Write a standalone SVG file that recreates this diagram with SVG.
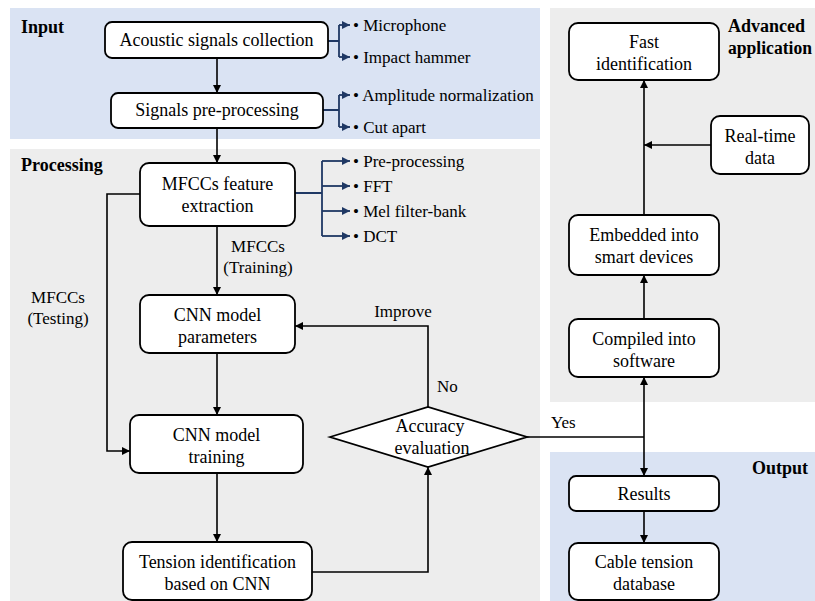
<svg xmlns="http://www.w3.org/2000/svg" width="815" height="601" viewBox="0 0 815 601" font-family="'Liberation Serif', 'DejaVu Serif', serif" font-size="17">
<defs>
<style>
text{font-family:'Liberation Serif','Times New Roman','DejaVu Serif',serif;font-size:17px;fill:#000}
.n{font-size:18px}
.b{font-weight:bold;font-size:18px}
.c{text-anchor:middle}
.box{fill:#fff;stroke:#000;stroke-width:1.8}
.ln{fill:none;stroke:#000;stroke-width:1.6}
.bl{fill:none;stroke:#1f3864;stroke-width:1.8}
</style>
<marker id="ah" viewBox="0 0 10 10" refX="10" refY="5" markerWidth="8" markerHeight="8" markerUnits="userSpaceOnUse" orient="auto"><path d="M0,0 L10,5 L0,10 z" fill="#000"/></marker>
<marker id="bh" viewBox="0 0 10 10" refX="10" refY="5" markerWidth="8" markerHeight="8" markerUnits="userSpaceOnUse" orient="auto"><path d="M0,0 L10,5 L0,10 z" fill="#1f3864"/></marker>
</defs>
<g id="panels">
<rect x="10" y="8" width="530" height="131" fill="#dae3f3"/>
<rect x="10" y="149" width="530" height="452" fill="#ededed"/>
<rect x="550" y="8" width="265" height="394" fill="#ededed"/>
<rect x="550" y="452" width="265" height="149" fill="#dae3f3"/>
<text class="b" x="21" y="33">Input</text>
<text class="b" x="21" y="171">Processing</text>
<text class="b" x="728" y="32">Advanced</text>
<text class="b" x="728" y="54" textLength="84" lengthAdjust="spacingAndGlyphs">application</text>
<text class="b" x="752" y="474">Output</text>
</g>
<g id="connectors">
<path class="ln" d="M217,58 V93" marker-end="url(#ah)"/>
<path class="ln" d="M217,128 V163" marker-end="url(#ah)"/>
<path class="ln" d="M217,226 V295" marker-end="url(#ah)"/>
<path class="ln" d="M217,353 V415" marker-end="url(#ah)"/>
<path class="ln" d="M217,473 V542" marker-end="url(#ah)"/>
<path class="ln" d="M140,194 H107 V451 H130" marker-end="url(#ah)"/>
<path class="ln" d="M428,407 V326 H295" marker-end="url(#ah)"/>
<path class="ln" d="M312,572 H428 V467" marker-end="url(#ah)"/>
<path class="ln" d="M527,437 H644"/>
<path class="ln" d="M644,437 V377" marker-end="url(#ah)"/>
<path class="ln" d="M644,437 V476" marker-end="url(#ah)"/>
<path class="ln" d="M644,319 V275" marker-end="url(#ah)"/>
<path class="ln" d="M644,215 V80" marker-end="url(#ah)"/>
<path class="ln" d="M711,145 H644" marker-end="url(#ah)"/>
<path class="ln" d="M644,511 V543" marker-end="url(#ah)"/>
<path class="bl" d="M328,41 H339 M339,25 V57"/>
<path class="bl" d="M339,25 H350" marker-end="url(#bh)"/>
<path class="bl" d="M339,57 H350" marker-end="url(#bh)"/>
<path class="bl" d="M323,110 H339 M339,95 V127"/>
<path class="bl" d="M339,95 H350" marker-end="url(#bh)"/>
<path class="bl" d="M339,127 H350" marker-end="url(#bh)"/>
<path class="bl" d="M295,193 H322 M322,161 V236"/>
<path class="bl" d="M322,161 H350" marker-end="url(#bh)"/>
<path class="bl" d="M322,186 H350" marker-end="url(#bh)"/>
<path class="bl" d="M322,211 H350" marker-end="url(#bh)"/>
<path class="bl" d="M322,236 H350" marker-end="url(#bh)"/>
<text class="c" x="258" y="252">MFCCs</text>
<text class="c" x="258" y="273">(Training)</text>
<text class="c" x="58" y="303">MFCCs</text>
<text class="c" x="58" y="324">(Testing)</text>
<text class="c" x="403" y="317">Improve</text>
<text x="437" y="392">No</text>
<text x="551" y="428">Yes</text>
<text x="353" y="31">• Microphone</text>
<text x="353" y="63">• Impact hammer</text>
<text x="353" y="101">• Amplitude normalization</text>
<text x="353" y="133">• Cut apart</text>
<text x="353" y="167">• Pre-processing</text>
<text x="353" y="192">• FFT</text>
<text x="353" y="217">• Mel filter-bank</text>
<text x="353" y="242">• DCT</text>
</g>
<g id="n-acoustic"><rect class="box" x="105" y="22" width="223" height="36" rx="7"/><text class="c n" x="216.5" y="46">Acoustic signals collection</text></g>
<g id="n-preproc"><rect class="box" x="111" y="93" width="212" height="35" rx="7"/><text class="c n" x="217" y="116">Signals pre-processing</text></g>
<g id="n-mfcc"><rect class="box" x="140" y="163" width="155" height="63" rx="9"/><text class="c n" x="217.5" y="190">MFCCs feature</text><text class="c n" x="217.5" y="212">extraction</text></g>
<g id="n-params"><rect class="box" x="140" y="295" width="155" height="58" rx="9"/><text class="c n" x="217.5" y="321">CNN model</text><text class="c n" x="217.5" y="343">parameters</text></g>
<g id="n-training"><rect class="box" x="130" y="415" width="173" height="58" rx="9"/><text class="c n" x="216.5" y="441">CNN model</text><text class="c n" x="216.5" y="463">training</text></g>
<g id="n-tension"><rect class="box" x="123" y="542" width="189" height="58" rx="9"/><text class="c n" x="217.5" y="568">Tension identification</text><text class="c n" x="217.5" y="590">based on CNN</text></g>
<g id="n-accuracy"><path class="box" d="M330,437 L428,407 L527,437 L428,467 Z"/><text class="c n" x="430" y="432">Accuracy</text><text class="c n" x="432" y="454">evaluation</text></g>
<g id="n-fast"><rect class="box" x="569" y="23" width="150" height="57" rx="9"/><text class="c n" x="644" y="48">Fast</text><text class="c n" x="644" y="70">identification</text></g>
<g id="n-realtime"><rect class="box" x="711" y="116" width="98" height="58" rx="9"/><text class="c n" x="760" y="142">Real-time</text><text class="c n" x="760" y="164">data</text></g>
<g id="n-embedded"><rect class="box" x="569" y="215" width="150" height="60" rx="9"/><text class="c n" x="644" y="241">Embedded into</text><text class="c n" x="644" y="263">smart devices</text></g>
<g id="n-compiled"><rect class="box" x="569" y="319" width="150" height="58" rx="9"/><text class="c n" x="644" y="345">Compiled into</text><text class="c n" x="644" y="367">software</text></g>
<g id="n-results"><rect class="box" x="569" y="476" width="150" height="35" rx="7"/><text class="c n" x="644" y="500">Results</text></g>
<g id="n-database"><rect class="box" x="569" y="543" width="150" height="57" rx="9"/><text class="c n" x="644" y="568">Cable tension</text><text class="c n" x="644" y="590">database</text></g>
</svg>
